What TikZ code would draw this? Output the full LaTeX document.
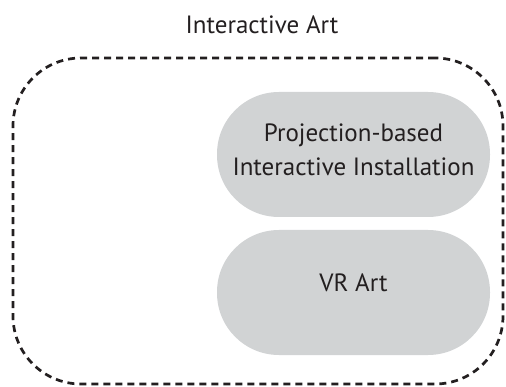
\documentclass[tikz,border=0pt]{standalone}
\usepackage{fontspec}
\setmainfont{PT Sans}
\definecolor{pillgray}{RGB}{209,211,212}
\definecolor{inkdark}{RGB}{35,31,32}
\begin{document}
\begin{tikzpicture}[
            x=1pt, y=-1pt,
            frame/.style={
                draw=inkdark, line width=2.7pt, dash pattern=on 7pt off 5pt,
                rounded corners=68pt, minimum width=490pt, minimum height=326pt,
                inner sep=0pt,
            },
            pill/.style={
                fill=pillgray, rounded corners=62pt, minimum width=273pt,
                minimum height=125pt, inner sep=0pt, align=center,
                text=inkdark, font=\fontsize{25}{34}\selectfont,
            },
            title/.style={text=inkdark, font=\fontsize{25}{30}\selectfont},
        ]
        \useasboundingbox (0, 0) rectangle (506, 387);

        % outer set
        \node[frame] (art) at (258, 221) {};
        \node[title] (artlabel) at (262, 25) {Interactive Art};

        % subsets
        \node[pill, text depth=9pt] (proj) at (353.5, 154.5) {Projection-based\\Interactive Installation};
        \node[pill, text depth=19pt] (vr) at (353.5, 292.5) {VR Art};
    \end{tikzpicture}
\end{document}
